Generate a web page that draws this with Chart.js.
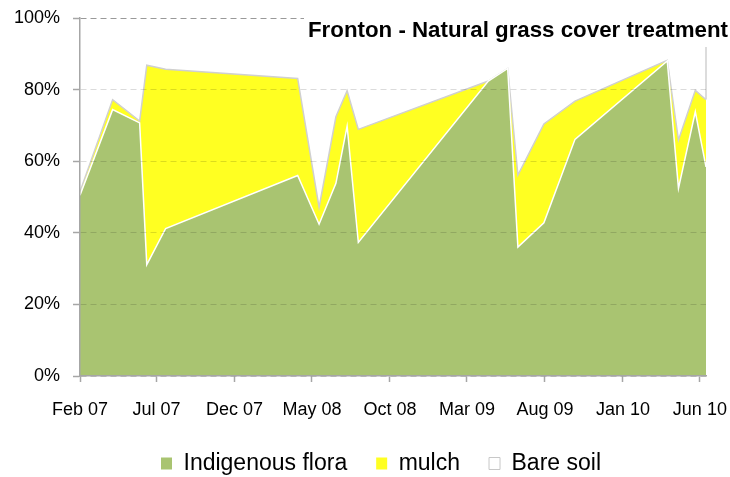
<!DOCTYPE html>
<html>
<head>
<meta charset="utf-8">
<script src="https://cdn.jsdelivr.net/npm/chart.js@4"></script>
<style>
  html, body { margin: 0; padding: 0; background: #fff; overflow: hidden; }
  #wrap { width: 730px; height: 477px; position: relative; }
</style>
</head>
<body>
<div id="wrap"><canvas id="chart"></canvas></div>
<script>
// sampling dates and cover percentages
const sampleDates = [
    '2007-02-01', '2007-04-06', '2007-05-29', '2007-06-12', '2007-07-19',
    '2008-04-03', '2008-05-15', '2008-06-17', '2008-07-09', '2008-07-31',
    '2009-04-12', '2009-05-20', '2009-06-09', '2009-07-30', '2009-09-29',
    '2010-03-29', '2010-04-20', '2010-05-23', '2010-06-13'
];
const floraValues = [50.5, 74.4, 70.7, 31.1, 41.2, 56.0, 42.4, 53.8, 69.8, 37.3, 82.4, 85.9, 36.0, 42.8, 66.1, 88.0, 52.4, 73.8, 58.4];
const mulchValues = [1.0, 2.8, 0.5, 55.7, 44.5, 27.1, 4.7, 18.6, 9.9, 31.6, 0.0, 0.0, 20.1, 27.6, 10.7, 0.2, 13.5, 6.0, 18.8];
const bareSoilValues = [48.5, 22.8, 28.8, 13.2, 14.3, 16.9, 52.9, 27.6, 20.3, 31.1, 17.6, 14.1, 43.9, 29.6, 23.2, 11.8, 34.1, 20.2, 22.8];

const tickDates = ['2007-02-01', '2007-07-01', '2007-12-01', '2008-05-01', '2008-10-01', '2009-03-01', '2009-08-01', '2010-01-01', '2010-06-01'];
const tickLabels = ['Feb 07', 'Jul 07', 'Dec 07', 'May 08', 'Oct 08', 'Mar 09', 'Aug 09', 'Jan 10', 'Jun 10'];

const seriesNames = ['Indigenous flora', 'mulch', 'Bare soil'];
const titleText = 'Fronton - Natural grass cover treatment';

const FONT = "'Liberation Sans', Arial, sans-serif";
const START = Date.UTC(2007, 1, 1);

function toDay(s) {
    const [y, m, d] = s.split('-').map(Number);
    return (Date.UTC(y, m - 1, d) - START) / 86400000;
}

const days = sampleDates.map(toDay);
const tickDays = tickDates.map(toDay);
const pts = values => values.map((v, i) => ({ x: days[i], y: v }));

// title in a white box at the top right + right edge of the bare soil area
const cornerTitle = {
    id: 'cornerTitle',
    afterLayout(chart) {
        // legend sits a bit right of the canvas centre in the original
        chart.legend.left += 28;
        chart.legend.right += 28;
    },
    afterDatasetsDraw(chart) {
        const top = chart.getDatasetMeta(2).data;
        const mid = chart.getDatasetMeta(1).data;
        const a = top[top.length - 1], b = mid[mid.length - 1];
        const ctx = chart.ctx;
        ctx.save();
        ctx.strokeStyle = '#d0d0d0';
        ctx.lineWidth = 1.5;
        ctx.beginPath();
        ctx.moveTo(a.x, a.y);
        ctx.lineTo(b.x, b.y);
        ctx.stroke();
        ctx.restore();
    },
    afterDraw(chart) {
        const ctx = chart.ctx;
        ctx.save();
        ctx.fillStyle = '#fff';
        ctx.fillRect(304, 0, chart.width - 304, 47);
        ctx.font = 'bold 22.3px ' + FONT;
        ctx.fillStyle = '#000';
        ctx.textAlign = 'right';
        ctx.textBaseline = 'alphabetic';
        ctx.fillText(titleText, 728, 37);
        ctx.restore();
    }
};

document.addEventListener('DOMContentLoaded', () => {
    const el = document.getElementById('chart');

    new Chart(el, {
        type: 'line',
        data: {
            datasets: [{
                label: seriesNames[0],
                data: pts(floraValues),
                backgroundColor: '#A9C471',
                borderColor: '#ffffff',
                borderWidth: 1.5,
                fill: 'origin'
            }, {
                label: seriesNames[1],
                data: pts(mulchValues),
                backgroundColor: '#FFFF22',
                borderColor: '#d0d0d0',
                borderWidth: 1.5,
                fill: '-1'
            }, {
                label: seriesNames[2],
                data: pts(bareSoilValues),
                backgroundColor: '#ffffff',
                borderColor: 'rgba(0,0,0,0)',
                borderWidth: 0,
                fill: '-1'
            }]
        },
        options: {
            responsive: true,
            maintainAspectRatio: false,
            animation: false,
            elements: {
                point: { radius: 0, hoverRadius: 0 },
                line: { tension: 0 }
            },
            layout: { padding: { top: 18, left: 0, right: 24, bottom: -8 } },
            plugins: {
                legend: {
                    position: 'bottom',
                    labels: {
                        font: { family: FONT, size: 23 },
                        color: '#000',
                        boxWidth: 11,
                        boxHeight: 12,
                        padding: 29,
                        generateLabels(chart) {
                            const items = Chart.defaults.plugins.legend.labels.generateLabels(chart);
                            items.forEach((it, i) => {
                                it.lineWidth = i === 2 ? 1 : 0;
                                it.strokeStyle = '#c8c8c8';
                            });
                            return items;
                        }
                    }
                },
                tooltip: { enabled: false }
            },
            scales: {
                x: {
                    type: 'linear',
                    min: days[0],
                    max: days[days.length - 1],
                    afterBuildTicks: s => { s.ticks = tickDays.map(v => ({ value: v })); },
                    afterFit: s => {
                        s.height = 47;
                        s.paddingLeft = 0;
                        s.paddingRight = 0;
                    },
                    ticks: {
                        autoSkip: false,
                        maxRotation: 0,
                        padding: 17,
                        color: '#000',
                        font: { family: FONT, size: 18 },
                        callback: (v, i) => tickLabels[i]
                    },
                    grid: {
                        drawOnChartArea: false,
                        tickLength: 6,
                        tickColor: '#a6a6a6',
                        tickWidth: 1.5,
                        z: 1
                    },
                    border: { color: '#a6a6a6', width: 1.5, z: 1 }
                },
                y: {
                    stacked: true,
                    min: 0,
                    max: 100,
                    afterFit: s => {
                        s.width = 80;
                        s.paddingTop = 0;
                        s.paddingBottom = 0;
                    },
                    ticks: {
                        stepSize: 20,
                        padding: 13,
                        color: '#000',
                        font: { family: FONT, size: 18 },
                        callback: v => v + '%'
                    },
                    grid: {
                        color: c => c.tick && c.tick.value === 100 ? 'rgba(0,0,0,0.4)' : 'rgba(0,0,0,0.14)',
                        lineWidth: 1,
                        tickLength: 7,
                        tickColor: '#a6a6a6',
                        tickWidth: 1.5,
                        z: 1
                    },
                    border: { color: '#a6a6a6', width: 1.5, dash: [6, 4], z: 1 }
                }
            }
        },
        plugins: [cornerTitle]
    });
});
</script>
</body>
</html>
